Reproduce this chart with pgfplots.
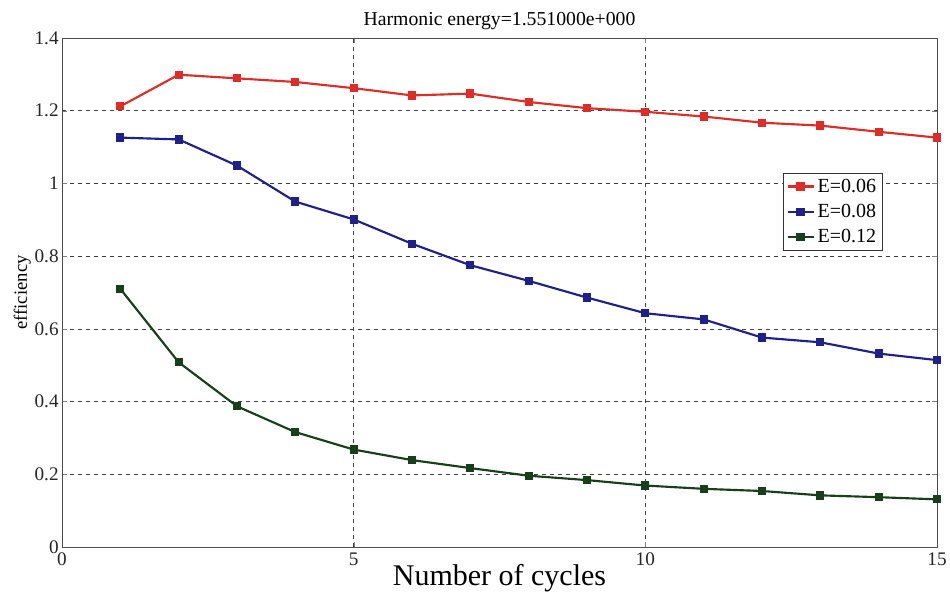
\documentclass[border=0pt]{standalone}
\usepackage{fontspec}
\setmainfont{Liberation Serif}
\usepackage{pgfplots}
\pgfplotsset{compat=1.18}
\definecolor{cred}{RGB}{222,45,38}
\definecolor{cblue}{RGB}{32,32,140}
\definecolor{cgreen}{RGB}{22,64,26}
\begin{document}
\begin{tikzpicture}[x=1pt,y=1pt]
\begin{axis}[
  name=ax,
  scale only axis,
  width=656.25pt, height=381.75pt,
  xmin=0, xmax=15, ymin=0, ymax=1.4,
  xtick={0,5,10,15},
  xticklabels={0,5,10,15},
  ytick={0,0.2,0.4,0.6,0.8,1,1.2,1.4},
  yticklabels={0,0.2,0.4,0.6,0.8,1,1.2,1.4},
  /pgf/number format/assume math mode=true,
  tick label style={font=\fontsize{14.4}{15}\selectfont, black!85},
  yticklabel style={xshift=1pt},
  xticklabel style={yshift=-1pt},
  tick align=inside,
  major tick length=4pt,
  xmajorgrids, ymajorgrids,
  grid style={black!75, dashed, line width=0.5pt},
  axis line style={black!70, line width=0.7pt},
  title={Harmonic energy=1.551000e+000},
  title style={font=\fontsize{14.8}{15}\selectfont, yshift=-3pt},
  xlabel={Number of cycles},
  xlabel style={font=\fontsize{22.5}{24}\selectfont, yshift=8pt},
  ylabel={efficiency},
  ylabel style={font=\fontsize{14}{15}\selectfont, yshift=-4pt},
  legend style={at={(axis cs:12.36,1.03)}, anchor=north west,
    font=\fontsize{15}{16}\selectfont, draw=black!80, line width=0.6pt,
    inner sep=2.5pt, row sep=3.5pt},
  legend image post style={xscale=1.15},
  legend cell align=left,
  every axis plot/.append style={line width=1.6pt, mark=square*, mark size=2.3pt},
]
\addplot[color=cred, mark options={fill=cred}] coordinates {
(1,1.212) (2,1.299) (3,1.289) (4,1.279) (5,1.262) (6,1.242) (7,1.247)
(8,1.224) (9,1.207) (10,1.197) (11,1.184) (12,1.167) (13,1.159) (14,1.142) (15,1.126)};
\addlegendentry{E=0.06}
\addplot[color=cblue, mark options={fill=cblue}] coordinates {
(1,1.126) (2,1.121) (3,1.049) (4,0.950) (5,0.901) (6,0.834) (7,0.775)
(8,0.732) (9,0.686) (10,0.643) (11,0.626) (12,0.576) (13,0.563) (14,0.532) (15,0.514)};
\addlegendentry{E=0.08}
\addplot[color=cgreen, mark options={fill=cgreen}] coordinates {
(1,0.710) (2,0.508) (3,0.387) (4,0.316) (5,0.268) (6,0.239) (7,0.217)
(8,0.196) (9,0.184) (10,0.169) (11,0.160) (12,0.154) (13,0.142) (14,0.137) (15,0.131)};
\addlegendentry{E=0.12}
\end{axis}
\pgfresetboundingbox
\path ([shift={(-46.5pt,-41.25pt)}]ax.south west) rectangle ([shift={(9.75pt,28.5pt)}]ax.north east);
\end{tikzpicture}
\end{document}
